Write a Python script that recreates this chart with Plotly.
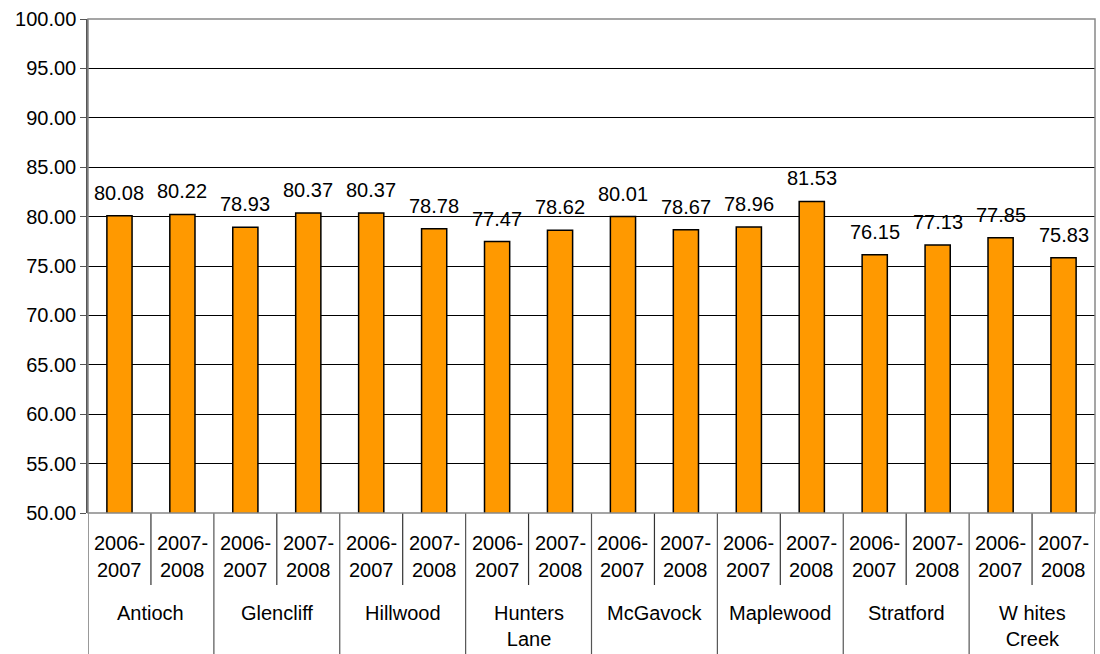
import plotly.graph_objects as go

schools = ["Antioch", "Glencliff", "Hillwood", "Hunters<br>Lane", "McGavock",
           "Maplewood", "Stratford", "W hites<br>Creek"]
years = ["2006-2007", "2007-2008"]
values = [80.08, 80.22, 78.93, 80.37, 80.37, 78.78, 77.47, 78.62,
          80.01, 78.67, 78.96, 81.53, 76.15, 77.13, 77.85, 75.83]
y_ticks = [50, 55, 60, 65, 70, 75, 80, 85, 90, 95, 100]

FONT = "Liberation Sans, Arial, sans-serif"
ORANGE = "#FF9900"
FS = 20

n = len(values)
xs = list(range(n))

fig = go.Figure()
fig.add_trace(go.Bar(
    x=xs, y=values, width=0.4,
    marker=dict(color=ORANGE, line=dict(color="black", width=1.5)),
    hoverinfo="skip",
))

PLOT_H = 494.0
def py(px_below):
    return -px_below / PLOT_H

annotations = []
shapes = []
for i, v in zip(xs, values):
    annotations.append(dict(x=i, y=v, xref="x", yref="y", text=f"{v:.2f}",
                            showarrow=False, yanchor="bottom", yshift=10,
                            font=dict(family=FONT, size=FS, color="black")))
for i in xs:
    yr = years[i % 2]
    top, bot = yr.split("-")
    annotations.append(dict(x=i, y=py(30), xref="x", yref="paper", text=top + "-",
                            showarrow=False, yanchor="middle",
                            font=dict(family=FONT, size=FS, color="black")))
    annotations.append(dict(x=i, y=py(57), xref="x", yref="paper", text=bot,
                            showarrow=False, yanchor="middle",
                            font=dict(family=FONT, size=FS, color="black")))
for k, s in enumerate(schools):
    annotations.append(dict(x=2 * k + 0.5, y=py(87), xref="x", yref="paper", text=s,
                            showarrow=False, yanchor="top",
                            font=dict(family=FONT, size=FS, color="black")))

for b in range(n + 1):
    xb = b - 0.5
    outer = (b % 2 == 0)
    shapes.append(dict(type="line", xref="x", yref="paper", x0=xb, x1=xb,
                       y0=0, y1=py(141) if outer else py(72),
                       line=dict(color="#555555" if outer else "#333333", width=1.2)))

shapes.append(dict(type="rect", xref="paper", yref="paper", x0=0, x1=1, y0=0, y1=1,
                   line=dict(color="#888888", width=1.5), layer="above"))

fig.update_layout(
    width=1100, height=654,
    margin=dict(l=88, r=5, t=19, b=141, autoexpand=False),
    paper_bgcolor="white", plot_bgcolor="white",
    showlegend=False,
    annotations=annotations, shapes=shapes,
    xaxis=dict(range=[-0.5, n - 0.5], showticklabels=False, showgrid=False,
               zeroline=False, showline=False, ticks="", automargin=False),
    yaxis=dict(range=[50, 100], tickvals=y_ticks, tickformat=".2f",
               showgrid=True, gridcolor="black", gridwidth=1, automargin=False,
               zeroline=False, showline=True, linecolor="#555555", linewidth=1.5,
               ticks="outside", ticklen=6, tickcolor="#555555",
               tickfont=dict(family=FONT, size=FS, color="black")),
)

fig.write_html("out.html", config={"displayModeBar": False},
               post_script="document.body.style.margin='0';document.body.style.overflow='hidden';")
